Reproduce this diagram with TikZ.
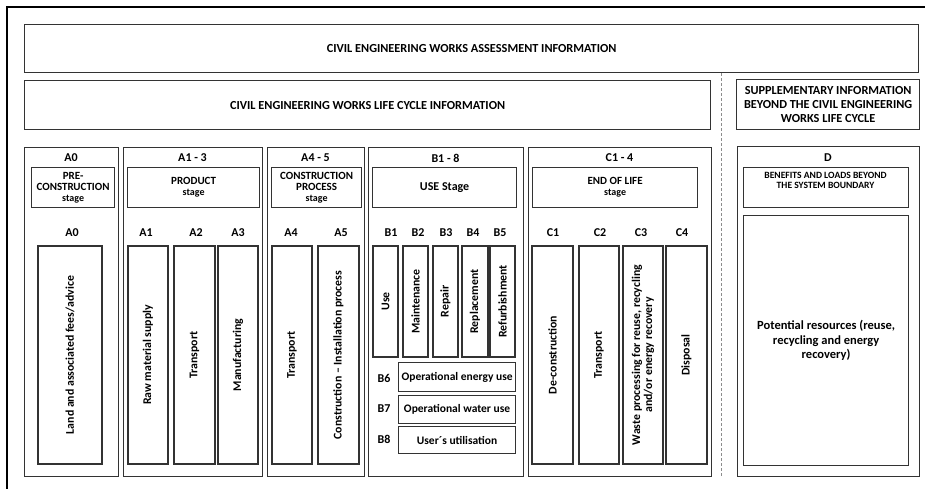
\documentclass[tikz,border=0pt]{standalone}
\usepackage{fontspec}
\setmainfont{Carlito}
\usetikzlibrary{positioning}

\begin{document}
\begin{tikzpicture}[x=1pt,y=-1pt, font=\fontsize{11.8}{12}\selectfont\bfseries]
	\tikzstyle{box}=[draw=black!80, line width=1.2pt, anchor=north west, inner sep=1pt, align=center]
	\tikzstyle{stage box}=[box, minimum height=40, font=\fontsize{11}{11}\selectfont\bfseries]
	\tikzstyle{group box}=[box, minimum height=329]
	\tikzstyle{column box}=[draw=black!80, line width=1.2pt, rotate=90, inner sep=0pt, align=center]
	\tikzstyle{row box}=[box, minimum width=117, font=\fontsize{11.5}{12}\selectfont\bfseries]
	\tikzstyle{annot}=[font=\fontsize{12}{12}\selectfont\bfseries, inner sep=0pt]
	\tikzstyle{head}=[font=\fontsize{12.3}{14}\selectfont\bfseries]
	\tikzstyle{dashed line}=[draw=black!45, line width=1pt, dash pattern=on 3pt off 2pt]
	
	\useasboundingbox (0,0) rectangle (925,488);
	
	% Outer frame
	\draw[line width=1.8pt] (7,500) -- (7,7) -- (940,7);
	
	% Headers
	\node[box, head, minimum width=894, minimum height=48] (assess) at (24,24)
	{CIVIL ENGINEERING WORKS ASSESSMENT INFORMATION};
	\node[box, head, minimum width=686, minimum height=49] (life) at (24,80)
	{CIVIL ENGINEERING WORKS LIFE CYCLE INFORMATION};
	\node[box, head, minimum width=183, minimum height=50] (supp) at (736,79)
	{SUPPLEMENTARY INFORMATION\\BEYOND THE CIVIL ENGINEERING\\WORKS LIFE CYCLE};
	
	% Dashed separator
	\coordinate (dash-end) at (721,477);
	\draw[dashed line] (assess.south -| dash-end) -- (dash-end);
	
	% Draw the stage groups
	\foreach \name / \x / \w in {A0/24/94, A13/123/139, A45/267/97, B/368/155, C/528/183}
	\node[group box, minimum width=\w] (g-\name) at (\x,147) {};
	\node[group box, minimum width=182, minimum height=330] (g-D) at (737,146) {};
	
	% Annotate the groups
	\node[annot] (hl-A0) at (71,158) {A0};
	\node[annot] (hl-A13) at (192.5,158) {A1 - 3};
	\node[annot] (hl-A45) at (315.5,158) {A4 - 5};
	\node[annot] (hl-B) at (445.5,158) {B1 - 8};
	\node[annot] (hl-C) at (619.5,158) {C1 - 4};
	\node[annot] (hl-D) at (828,158) {D};
	
	% Stage boxes
	\node[stage box, minimum width=83] (s-A0) at (31,167)
	{PRE-\\CONSTRUCTION\\{\fontsize{10}{10}\selectfont stage}};
	\node[stage box, minimum width=132] (s-A13) at (127,167)
	{PRODUCT\\{\fontsize{10}{10}\selectfont stage}};
	\node[stage box, minimum width=90] (s-A45) at (271,167)
	{CONSTRUCTION\\PROCESS\\{\fontsize{10}{10}\selectfont stage}};
	\node[stage box, minimum width=144, font=\fontsize{12}{12}\selectfont\bfseries] (s-B) at (372,167) {USE Stage};
	\node[stage box, minimum width=165] (s-C) at (532,167)
	{END OF LIFE\\{\fontsize{10}{10}\selectfont stage}};
	\node[stage box, minimum width=165] (s-D) at (743,167) {};
	\node[align=center, inner sep=0pt, font=\fontsize{9.6}{10}\selectfont\bfseries] (s-D-text) at (825.5,180)
	{BENEFITS AND LOADS BEYOND\\THE SYSTEM BOUNDARY};
	
	% Module labels
	\foreach \name / \x in {A0/72, A1/146, A2/196, A3/238, A4/291, A5/341,
		B1/391, B2/418, B3/446, B4/473, B5/500, C1/553, C2/600, C3/641, C4/682}
	\node[annot] (lab-\name) at (\x,233) {\name};
	
	% Full height modules
	\foreach \name / \x / \w / \txt in {A0/70/64/{Land and associated fees\slash advice},
		A1/148/40/{Raw material supply}, A2/194.5/41/{Transport}, A3/238/40/{Manufacturing},
		A4/292/40/{Transport}, A5/338.5/41/{Construction – Installation process},
		C1/552.5/41/{De-construction}, C2/599/40/{Transport},
		C3/643/40/{Waste processing for reuse, recycling\\and\slash or energy recovery},
		C4/686.5/41/{Disposal}}
	\node[column box, minimum width=218, minimum height=\w] (m-\name) at (\x,355) {\txt};
	
	% Use stage modules
	\foreach \name / \x / \w / \txt in {B1/385.5/25/{Use}, B2/415.5/25/{Maintenance},
		B3/445.5/25/{Repair}, B4/475/26/{Replacement}, B5/502.5/25/{Refurbishment}}
	\node[column box, minimum width=111, minimum height=\w] (m-\name) at (\x,301.5) {\txt};
	
	\node[row box, minimum height=29] (m-B6) at (398,362) {Operational energy use};
	\node[row box, minimum height=28] (m-B7) at (398,395) {Operational water use};
	\node[row box, minimum height=27] (m-B8) at (398,426) {User´s utilisation};
	\node[annot] (lab-B6) at (384,378) {B6};
	\node[annot] (lab-B7) at (384,409) {B7};
	\node[annot] (lab-B8) at (384,439) {B8};
	
	% Module D
	\node[box, minimum width=165, minimum height=250, font=\fontsize{12.5}{14.5}\selectfont\bfseries] (m-D) at (743,215)
	{Potential resources (reuse,\\recycling and energy\\recovery)};
	
\end{tikzpicture}
\end{document}
